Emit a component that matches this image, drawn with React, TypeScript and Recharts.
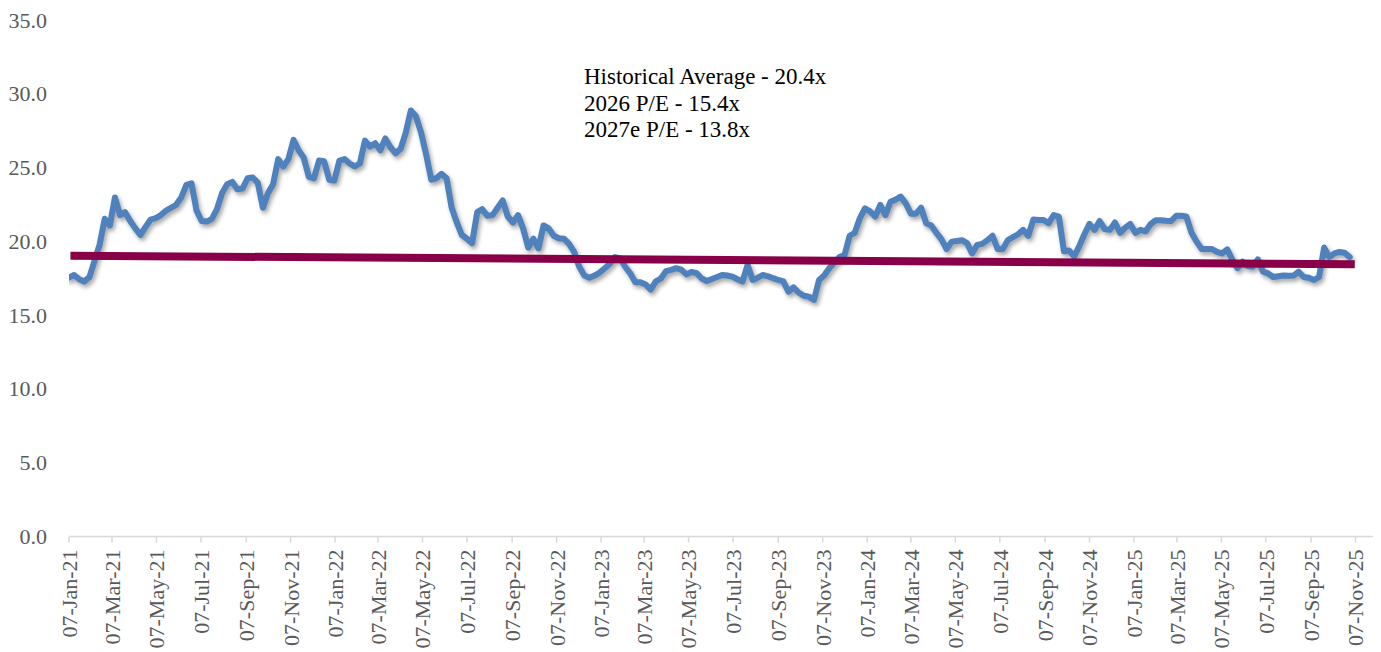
import React from 'react';
import { LineChart, Line, XAxis, YAxis } from 'recharts';

// Weekly forward P/E readings, first week starting 07-Jan-21
const seriesStart = '2021-01-07';
const peValues = [
  17.56, 17.74, 17.45, 17.29, 17.6, 18.7, 19.8, 21.55, 21.1, 23.0,
  21.8, 22.0, 21.4, 20.9, 20.45, 21.0, 21.5, 21.6, 21.8, 22.1,
  22.3, 22.5, 23.0, 23.85, 23.96, 22.1, 21.4, 21.36, 21.55, 22.2,
  23.3, 23.9, 24.05, 23.55, 23.6, 24.3, 24.35, 24.0, 22.3, 23.3,
  23.9, 25.6, 25.1, 25.6, 26.9, 26.2, 25.7, 24.4, 24.3, 25.5,
  25.45, 24.2, 24.15, 25.5, 25.6, 25.3, 25.1, 25.3, 26.85, 26.45,
  26.68, 26.2, 27.0, 26.4, 26.0, 26.3, 27.4, 28.9, 28.5, 27.4,
  25.9, 24.2, 24.3, 24.6, 24.3, 22.3, 21.3, 20.45, 20.2, 19.9,
  22.0, 22.2, 21.75, 21.8, 22.3, 22.8, 21.7, 21.3, 21.8, 20.9,
  19.6, 20.2, 19.55, 21.1, 20.9, 20.4, 20.23, 20.2, 19.85, 19.3,
  18.3, 17.7, 17.55, 17.7, 17.9, 18.2, 18.5, 18.95, 18.87, 18.3,
  17.85, 17.25, 17.25, 17.1, 16.75, 17.3, 17.5, 18.0, 18.08, 18.2,
  18.1, 17.78, 17.95, 17.86, 17.5, 17.33, 17.47, 17.6, 17.74, 17.7,
  17.63, 17.45, 17.3, 18.42, 17.4, 17.56, 17.74, 17.65, 17.52, 17.4,
  17.3, 16.6, 16.9, 16.55, 16.33, 16.27, 16.05, 17.4, 17.7, 18.2,
  18.6, 18.95, 19.1, 20.4, 20.6, 21.6, 22.25, 22.05, 21.7, 22.49,
  21.8, 22.7, 22.85, 23.05, 22.6, 21.9, 21.9, 22.3, 21.25, 21.1,
  20.6, 20.15, 19.5, 20.0, 20.05, 20.1, 19.9, 19.21, 19.78, 19.85,
  20.1, 20.4, 19.5, 19.5, 20.1, 20.3, 20.5, 20.8, 20.4, 21.5,
  21.47, 21.47, 21.25, 21.8, 21.7, 19.35, 19.4, 19.0, 19.7, 20.5,
  21.2, 20.8, 21.4, 20.85, 20.8, 21.3, 20.6, 20.95, 21.2, 20.6,
  20.8, 20.7, 21.2, 21.45, 21.45, 21.42, 21.4, 21.75, 21.75, 21.7,
  20.6, 20.0, 19.5, 19.5, 19.5, 19.3, 19.2, 19.48, 18.76, 18.2,
  18.64, 18.35, 18.3, 18.8, 17.96, 17.85, 17.6, 17.65, 17.7, 17.68,
  17.7, 17.96, 17.6, 17.55, 17.4, 17.6, 19.6, 18.95, 19.2, 19.3,
  19.25, 18.95,
];

// Linear trend endpoints
const trendDates = ['2021-01-09', '2025-11-06'];
const trendValues = [19.05, 18.47];

const xTickDates = [
  '2021-01-07', '2021-03-07', '2021-05-07', '2021-07-07', '2021-09-07', '2021-11-07',
  '2022-01-07', '2022-03-07', '2022-05-07', '2022-07-07', '2022-09-07', '2022-11-07',
  '2023-01-07', '2023-03-07', '2023-05-07', '2023-07-07', '2023-09-07', '2023-11-07',
  '2024-01-07', '2024-03-07', '2024-05-07', '2024-07-07', '2024-09-07', '2024-11-07',
  '2025-01-07', '2025-03-07', '2025-05-07', '2025-07-07', '2025-09-07', '2025-11-07',
];
const axisEndDate = '2025-12-01';
const yTicks = [0, 5, 10, 15, 20, 25, 30, 35];

const annotationLines = [
  'Historical Average - 20.4x',
  '2026 P/E - 15.4x',
  '2027e P/E - 13.8x',
];

const MONTHS = ['Jan', 'Feb', 'Mar', 'Apr', 'May', 'Jun', 'Jul', 'Aug', 'Sep', 'Oct', 'Nov', 'Dec'];

const toDay = (s: string) => {
  const [y, m, d] = s.split('-').map(Number);
  return Date.UTC(y, m - 1, d) / 86400000;
};
const formatDay = (day: number) => {
  const dt = new Date(day * 86400000);
  const dd = String(dt.getUTCDate()).padStart(2, '0');
  return `${dd}-${MONTHS[dt.getUTCMonth()]}-${String(dt.getUTCFullYear()).slice(2)}`;
};

const startDay = toDay(seriesStart);
const data = peValues.map((pe, i) => ({ t: startDay + 7 * i, pe }));
const trendData = trendDates.map((d, i) => ({ t: toDay(d), trend: trendValues[i] }));
const xTicks = xTickDates.map(toDay);

const FONT = '"Liberation Serif", "Times New Roman", serif';
const LABEL_COLOR = '#595959';

const XTick = (props: any) => {
  const { x, y, payload } = props;
  return (
    <text
      transform={`translate(${x},${y}) rotate(-90)`}
      textAnchor="end"
      dy="0.36em"
      fill={LABEL_COLOR}
      fontSize={22}
      fontFamily={FONT}
    >
      {formatDay(payload.value)}
    </text>
  );
};

const YTick = (props: any) => {
  const { x, y, payload } = props;
  return (
    <text
      x={x}
      y={y}
      dy="0.33em"
      textAnchor="end"
      fill={LABEL_COLOR}
      fontSize={22}
      fontFamily={FONT}
    >
      {Number(payload.value).toFixed(1)}
    </text>
  );
};

export default function App() {
  return (
    <div style={{ position: 'relative', width: 1381, height: 652, background: '#fff' }}>
      <style>{`
        body { margin: 0; }
        .pe-line .recharts-line-curve { filter: drop-shadow(2px 3px 2px rgba(0,0,0,0.35)); }
      `}</style>
      <LineChart
        width={1381}
        height={652}
        data={data}
        margin={{ top: 20.5, right: 8, bottom: 15.5, left: 0 }}
      >
        <XAxis
          dataKey="t"
          type="number"
          domain={[startDay, toDay(axisEndDate)]}
          ticks={xTicks}
          interval={0}
          height={100}
          tickSize={6}
          tickMargin={7}
          axisLine={{ stroke: '#d9d9d9', strokeWidth: 1.5 }}
          tickLine={{ stroke: '#d9d9d9', strokeWidth: 1.5 }}
          tick={<XTick />}
          allowDataOverflow
        />
        <YAxis
          type="number"
          domain={[0, 35]}
          ticks={yTicks}
          interval={0}
          width={69}
          axisLine={false}
          tickLine={false}
          tickSize={6}
          tickMargin={16}
          tick={<YTick />}
        />
        <Line
          className="pe-line"
          dataKey="pe"
          type="linear"
          stroke="#4f81bd"
          strokeWidth={6}
          strokeLinejoin="round"
          strokeLinecap="round"
          dot={false}
          activeDot={false}
          isAnimationActive={false}
        />
        <Line
          data={trendData}
          dataKey="trend"
          type="linear"
          stroke="#880047"
          strokeWidth={8}
          strokeLinecap="butt"
          dot={false}
          activeDot={false}
          isAnimationActive={false}
        />
      </LineChart>
      <div
        style={{
          position: 'absolute',
          left: 584,
          top: 64,
          fontFamily: FONT,
          fontSize: 23,
          lineHeight: '26.7px',
          color: '#000',
          whiteSpace: 'nowrap',
        }}
      >
        {annotationLines.map((l) => (
          <div key={l}>{l}</div>
        ))}
      </div>
    </div>
  );
}
